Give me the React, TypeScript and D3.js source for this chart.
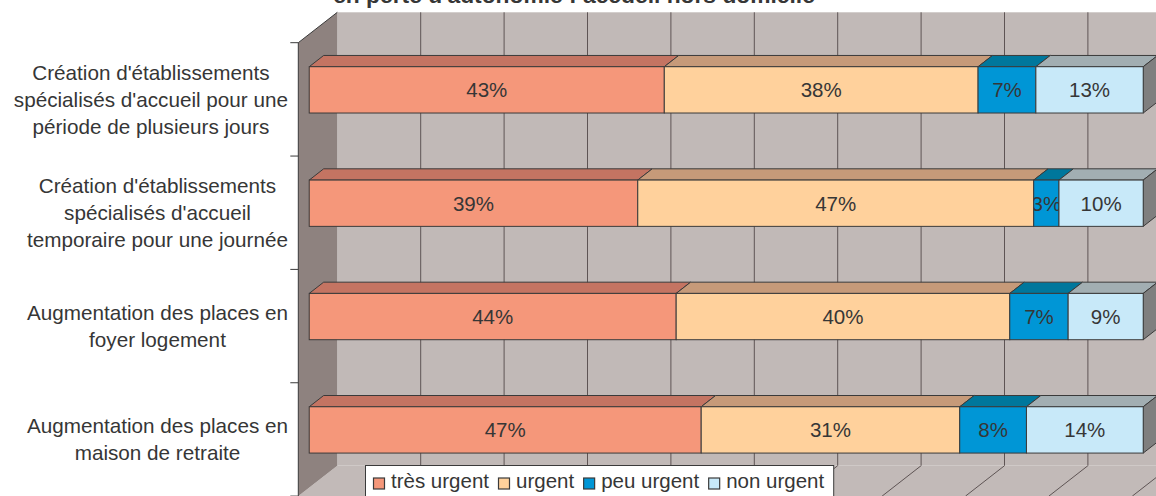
import React, { useRef, useEffect } from "react";
import * as d3 from "d3";

const width = 1156;
const height = 496;

const title = "en perte d'autonomie : accueil hors domicile";

const categories = [
  "Création d'établissements spécialisés d'accueil pour une période de plusieurs jours",
  "Création d'établissements spécialisés d'accueil temporaire pour une journée",
  "Augmentation des places en foyer logement",
  "Augmentation des places en maison de retraite",
];
const categoryLines = [
  ["Création d'établissements", "spécialisés d'accueil pour une", "période de plusieurs jours"],
  ["Création d'établissements", "spécialisés d'accueil", "temporaire pour une journée"],
  ["Augmentation des places en", "foyer logement"],
  ["Augmentation des places en", "maison de retraite"],
];

const seriesNames = ["très urgent", "urgent", "peu urgent", "non urgent"];
const tresUrgent = [43, 39, 44, 47];
const urgent = [38, 47, 40, 31];
const peuUrgent = [7, 3, 7, 8];
const nonUrgent = [13, 10, 9, 14];

const frontColors = ["#f5977a", "#ffd19c", "#0096d6", "#c8e9f9"];
const topColors = ["#c47462", "#c69a79", "#00779c", "#a2aeb2"];

const FONT = "'Liberation Sans', Arial, sans-serif";
const TEXT = "#363636";
const STROKE = "#3a3a3a";

// oblique depth offsets (back plane)
const DX = 39;
const DY = 30.4;
const dFront = 0.28;
const dBack = 0.65;

export default function App() {
  const ref = useRef<SVGSVGElement | null>(null);

  useEffect(() => {
    const svg = d3.select(ref.current);
    svg.selectAll("*").remove();

    const rows = categories.map((c, i) => ({
      category: c,
      "très urgent": tresUrgent[i],
      urgent: urgent[i],
      "peu urgent": peuUrgent[i],
      "non urgent": nonUrgent[i],
    }));
    const stacked = d3
      .stack<any>()
      .keys(seriesNames)
      .offset(d3.stackOffsetExpand)(rows);

    const x = d3.scaleLinear().domain([0, 1]).range([298.3, 298.3 + 834]);
    const y = d3.scaleBand().domain(categories).range([42.7, 496.1]).padding(0);
    const barH = 46.3;

    const P = (v: number, yy: number, d: number): [number, number] => [x(v) + d * DX, yy - d * DY];
    const poly = (pts: [number, number][]) => pts.map((p) => p.join(",")).join(" ");

    const yTop = y.range()[0];
    const yBot = y.range()[1];

    // floor
    svg
      .append("polygon")
      .attr("points", poly([P(0, yBot, 0), P(0, yBot, 1), P(1.05, yBot, 1), P(1.05, yBot, 0)]))
      .attr("fill", "#c2bab8");
    const ticks = d3.range(0, 11).map((t) => t / 10);
    svg
      .selectAll("line.floor")
      .data(ticks.slice(1))
      .enter()
      .append("line")
      .attr("x1", (t) => P(t, yBot, 1)[0])
      .attr("y1", (t) => P(t, yBot, 1)[1])
      .attr("x2", (t) => P(t, yBot, 0)[0])
      .attr("y2", (t) => P(t, yBot, 0)[1])
      .attr("stroke", "#5e5454")
      .attr("stroke-width", 1);

    // back wall
    const [bx0, by0] = P(0, yTop, 1);
    const [bx1, by1] = P(1, yBot, 1);
    svg
      .append("rect")
      .attr("x", bx0)
      .attr("y", by0)
      .attr("width", bx1 - bx0 + 20)
      .attr("height", by1 - by0)
      .attr("fill", "#c1b9b7");
    svg
      .selectAll("line.grid")
      .data(ticks.slice(1))
      .enter()
      .append("line")
      .attr("x1", (t) => P(t, yTop, 1)[0])
      .attr("x2", (t) => P(t, yTop, 1)[0])
      .attr("y1", by0)
      .attr("y2", by1)
      .attr("stroke", "#5e5454")
      .attr("stroke-width", 1);

    // left wall
    svg
      .append("polygon")
      .attr("points", poly([P(0, yTop, 0), P(0, yTop, 1), P(0, yBot, 1), P(0, yBot, 0)]))
      .attr("fill", "#8e827f");
    svg
      .append("polyline")
      .attr("points", poly([P(0, yBot, 0), P(0, yTop, 0), P(0, yTop, 1)]))
      .attr("fill", "none")
      .attr("stroke", STROKE)
      .attr("stroke-width", 1);

    // category ticks
    const bounds = categories.map((c) => y(c)!).concat([yBot]);
    svg
      .selectAll("line.tick")
      .data(bounds)
      .enter()
      .append("line")
      .attr("x1", x(0) - 8)
      .attr("x2", x(0))
      .attr("y1", (d) => d)
      .attr("y2", (d) => d)
      .attr("stroke", STROKE)
      .attr("stroke-width", 1);

    // bars
    const defs = svg.append("defs");
    categories.forEach((c, ci) => {
      const yc = y(c)! + y.bandwidth() / 2 - 1;
      const t = yc - barH / 2;
      const b = yc + barH / 2;
      const g = svg.append("g");
      stacked.forEach((s, si) => {
        const v0 = s[ci][0];
        const v1 = s[ci][1];
        g.append("polygon")
          .attr("points", poly([P(v0, t, dFront), P(v0, t, dBack), P(v1, t, dBack), P(v1, t, dFront)]))
          .attr("fill", topColors[si])
          .attr("stroke", STROKE)
          .attr("stroke-width", 1)
          .attr("stroke-linejoin", "round");
      });
      // side of last segment
      g.append("polygon")
        .attr("points", poly([P(1, t, dFront), P(1, t, dBack), P(1, b, dBack), P(1, b, dFront)]))
        .attr("fill", "#7f7f7f")
        .attr("stroke", STROKE)
        .attr("stroke-width", 1);
      stacked.forEach((s, si) => {
        const v0 = s[ci][0];
        const v1 = s[ci][1];
        const [fx0, fy0] = P(v0, t, dFront);
        const [fx1] = P(v1, t, dFront);
        const fh = b - t;
        g.append("rect")
          .attr("x", fx0)
          .attr("y", fy0)
          .attr("width", fx1 - fx0)
          .attr("height", fh)
          .attr("fill", frontColors[si])
          .attr("stroke", STROKE)
          .attr("stroke-width", 1);
        const id = `clip-${ci}-${si}`;
        defs
          .append("clipPath")
          .attr("id", id)
          .append("rect")
          .attr("x", fx0)
          .attr("y", fy0)
          .attr("width", fx1 - fx0)
          .attr("height", fh);
        const vals = [tresUrgent, urgent, peuUrgent, nonUrgent][si];
        g.append("text")
          .attr("clip-path", `url(#${id})`)
          .attr("x", (fx0 + fx1) / 2)
          .attr("y", fy0 + fh / 2 + 7.3)
          .attr("text-anchor", "middle")
          .attr("font-family", FONT)
          .attr("font-size", 20.5)
          .attr("fill", TEXT)
          .text(`${vals[ci]}%`);
      });
    });

    // category labels: block right aligned, lines centred within block
    categories.forEach((c, ci) => {
      const lines = categoryLines[ci];
      const yc = y(c)! + y.bandwidth() / 2;
      const lh = 27;
      const g = svg.append("g");
      const texts = g
        .selectAll("text")
        .data(lines)
        .enter()
        .append("text")
        .attr("font-family", FONT)
        .attr("font-size", 20.7)
        .attr("fill", TEXT)
        .attr("text-anchor", "middle")
        .attr("y", (_, i) => yc + (i - (lines.length - 1) / 2) * lh + 7.3)
        .text((d) => d);
      let maxW = 0;
      texts.each(function () {
        maxW = Math.max(maxW, (this as SVGTextElement).getComputedTextLength());
      });
      texts.attr("x", 288 - maxW / 2);
    });

    // title (mostly cut off at the top, as in the source)
    svg
      .append("text")
      .attr("x", 574)
      .attr("y", 2.5)
      .attr("text-anchor", "middle")
      .attr("font-family", FONT)
      .attr("font-size", 22.8)
      .attr("font-weight", "bold")
      .attr("fill", TEXT)
      .text(title);

    // legend
    const lg = svg.append("g");
    const box = lg
      .append("rect")
      .attr("x", 365.5)
      .attr("y", 465.5)
      .attr("height", 50)
      .attr("fill", "#ffffff")
      .attr("stroke", STROKE)
      .attr("stroke-width", 1);
    let lx = 373.5;
    seriesNames.forEach((name, i) => {
      lg.append("rect")
        .attr("x", lx)
        .attr("y", 478)
        .attr("width", 11)
        .attr("height", 11)
        .attr("fill", frontColors[i])
        .attr("stroke", STROKE)
        .attr("stroke-width", 1.2);
      const tx = lg
        .append("text")
        .attr("x", lx + 17.5)
        .attr("y", 487.5)
        .attr("font-family", FONT)
        .attr("font-size", 20.5)
        .attr("fill", TEXT)
        .text(name);
      lx += 17.5 + (tx.node() as SVGTextElement).getComputedTextLength() + 9.5;
    });
    box.attr("width", lx - 365.5);
  }, []);

  return (
    <svg
      ref={ref}
      width={width}
      height={height}
      style={{ position: "absolute", left: 0, top: 0, background: "#ffffff" }}
    />
  );
}
